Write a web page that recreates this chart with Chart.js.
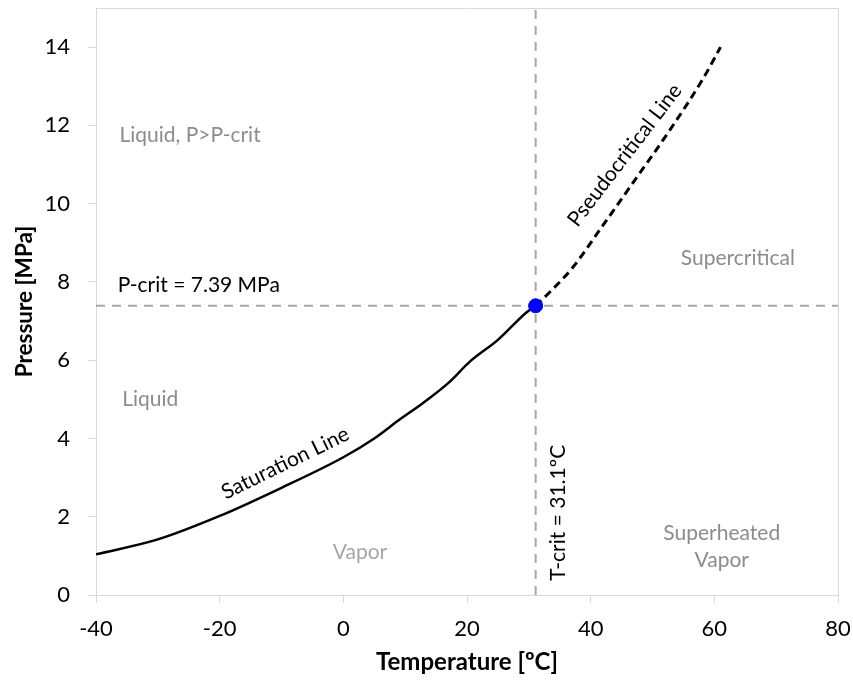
<!DOCTYPE html>
<html>
<head>
<meta charset="utf-8">
<script src="https://cdn.jsdelivr.net/npm/chart.js@4.4.0/dist/chart.umd.min.js"></script>
<style>
  html, body { margin: 0; padding: 0; background: #fff; }
  #wrap { width: 853px; height: 681px; }
</style>
</head>
<body>
<div id="wrap"><canvas id="myChart"></canvas></div>
<script>
// CO2 saturation line (temperature degC, pressure MPa)
const satTemp = [-40, -30, -20, -10, 0, 5, 9, 13, 17, 20.5, 25, 29.6, 31.1];
const satPress = [1.04, 1.42, 2.02, 2.74, 3.52, 4.0, 4.47, 4.92, 5.42, 5.97, 6.52, 7.22, 7.39];

// pseudocritical line above the critical point
const pcTemp = [31.1, 33.9, 37, 42, 47.4, 52.8, 58.2, 61];
const pcPress = [7.39, 7.82, 8.35, 9.45, 10.66, 11.88, 13.2, 14.0];

const critTemp = 31.1;
const critPress = 7.39;

const xTicks = [-40, -20, 0, 20, 40, 60, 80];
const yTicks = [0, 2, 4, 6, 8, 10, 12, 14];

const toPoints = (xs, ys) => xs.map((x, i) => ({ x: x, y: ys[i] }));

const FONT = 'Lato, "Open Sans", sans-serif';
const AXIS_GREY = '#d9d9d9';

// text placed at data coordinates
const notes = [
    { text: 'Liquid, P>P-crit', x: -36.2, y: 11.75, align: 'left', color: '#8c8c8c' },
    { text: 'Liquid', x: -35.75, y: 5.0, align: 'left', color: '#8c8c8c' },
    { text: 'Vapor', x: 2.7, y: 1.1, align: 'center', color: '#a6a6a6' },
    { text: 'Supercritical', x: 63.8, y: 8.6, align: 'center', color: '#8c8c8c' },
    { text: 'Superheated', x: 61.2, y: 1.58, align: 'center', color: '#8c8c8c' },
    { text: 'Vapor', x: 61.2, y: 0.9, align: 'center', color: '#8c8c8c' },
    { text: 'P-crit = 7.39 MPa', x: -36.5, y: 7.92, align: 'left', color: '#000' },
    { text: 'T-crit = 31.1ºC', x: 34.7, y: 2.1, align: 'center', color: '#000', angle: -90 },
    { text: 'Saturation Line', x: -9.4, y: 3.37, align: 'center', color: '#000', angle: -26 },
    { text: 'Pseudocritical Line', x: 45.5, y: 11.24, align: 'center', color: '#000', angle: -52.5 }
];

const notesPlugin = {
    id: 'notes',
    beforeDatasetsDraw(chart) {
        const { ctx, chartArea: a } = chart;
        ctx.save();
        ctx.strokeStyle = AXIS_GREY;
        ctx.lineWidth = 1;
        ctx.beginPath();
        ctx.moveTo(a.left, a.top + 0.5);
        ctx.lineTo(a.right + 0.5, a.top + 0.5);
        ctx.lineTo(a.right + 0.5, a.bottom);
        ctx.stroke();
        ctx.restore();
    },
    afterDatasetsDraw(chart) {
        const { ctx, scales } = chart;
        ctx.save();
        ctx.font = '21px ' + FONT;
        ctx.textBaseline = 'middle';
        notes.forEach(n => {
            const px = scales.x.getPixelForValue(n.x);
            const py = scales.y.getPixelForValue(n.y);
            ctx.save();
            ctx.translate(px, py);
            if (n.angle) ctx.rotate(n.angle * Math.PI / 180);
            ctx.fillStyle = n.color;
            ctx.textAlign = n.align;
            ctx.fillText(n.text, 0, 0);
            ctx.restore();
        });
        ctx.restore();
    }
};

// keep the plot box fixed: no extra room for edge tick labels
function noEdgePadding(s) {
    s.paddingTop = 0;
    s.paddingBottom = 0;
    s.paddingLeft = 0;
    s.paddingRight = 0;
}

const data = {
    datasets: [
        {
            label: 'Critical point',
            data: [{ x: critTemp, y: critPress }],
            pointRadius: 7,
            pointBackgroundColor: '#0000ff',
            pointBorderColor: '#0000ff',
            showLine: false,
            order: 0
        },
        {
            label: 'Saturation Line',
            data: toPoints(satTemp, satPress),
            borderColor: '#000',
            borderWidth: 2.5,
            pointRadius: 0,
            showLine: true,
            cubicInterpolationMode: 'monotone',
            order: 1
        },
        {
            label: 'Pseudocritical Line',
            data: toPoints(pcTemp, pcPress),
            borderColor: '#000',
            borderWidth: 3,
            borderDash: [8, 5],
            pointRadius: 0,
            showLine: true,
            cubicInterpolationMode: 'monotone',
            order: 1
        },
        {
            label: 'P-crit',
            data: [{ x: -40, y: critPress }, { x: 80, y: critPress }],
            borderColor: '#a6a6a6',
            borderWidth: 2,
            borderDash: [9, 7],
            pointRadius: 0,
            showLine: true,
            order: 2
        },
        {
            label: 'T-crit',
            data: [{ x: critTemp, y: 0 }, { x: critTemp, y: 15 }],
            borderColor: '#a6a6a6',
            borderWidth: 2,
            borderDash: [9, 7],
            pointRadius: 0,
            showLine: true,
            order: 2
        }
    ]
};

const config = {
    type: 'scatter',
    data: data,
    plugins: [notesPlugin],
    options: {
        responsive: true,
        maintainAspectRatio: false,
        animation: false,
        layout: { padding: { top: 8, right: 15, left: 0, bottom: 0 } },
        plugins: {
            legend: { display: false },
            tooltip: { enabled: false }
        },
        scales: {
            x: {
                type: 'linear',
                min: -40,
                max: 80,
                afterBuildTicks: s => { s.ticks = xTicks.map(v => ({ value: v })); },
                afterFit: s => { s.height = 86; noEdgePadding(s); },
                ticks: { font: { family: FONT, size: 22 }, color: '#000', padding: 13, maxRotation: 0 },
                grid: { drawOnChartArea: false, drawTicks: true, tickLength: 8, color: AXIS_GREY },
                border: { color: AXIS_GREY },
                title: {
                    display: true,
                    text: 'Temperature [ºC]',
                    font: { family: FONT, size: 24, weight: 'bold' },
                    color: '#000',
                    padding: { top: 6, bottom: 4 }
                }
            },
            y: {
                type: 'linear',
                min: 0,
                max: 15,
                afterBuildTicks: s => { s.ticks = yTicks.map(v => ({ value: v })); },
                afterFit: s => { s.width = 96; noEdgePadding(s); },
                ticks: { font: { family: FONT, size: 22 }, color: '#000', padding: 18 },
                grid: { drawOnChartArea: false, drawTicks: true, tickLength: 8, color: AXIS_GREY },
                border: { color: AXIS_GREY },
                title: {
                    display: true,
                    text: 'Pressure [MPa]',
                    font: { family: FONT, size: 22.5, weight: 'bold' },
                    color: '#000',
                    padding: { top: 11, bottom: 4 }
                }
            }
        }
    }
};

const myChart = new Chart(
    document.getElementById('myChart'),
    config
);
</script>
</body>
</html>
